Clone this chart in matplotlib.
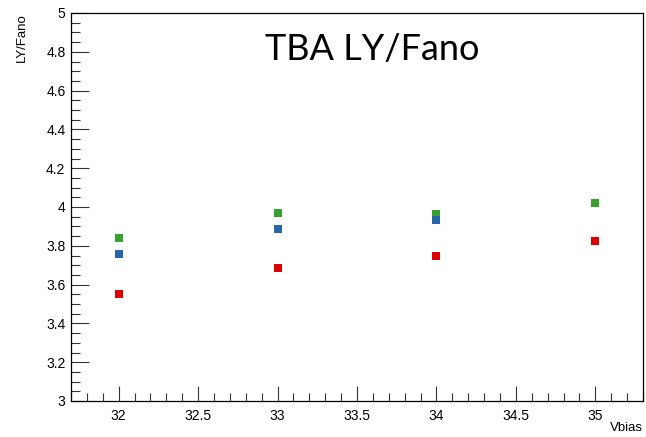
import matplotlib
matplotlib.use("Agg")
import matplotlib.pyplot as plt
from matplotlib.ticker import MultipleLocator, FuncFormatter

vbias = [32, 33, 34, 35]
green_vals = [3.840, 3.969, 3.964, 4.021]
blue_x = [32, 33, 34]
blue_vals = [3.758, 3.887, 3.933]
red_vals = [3.552, 3.686, 3.747, 3.825]

plt.rcParams['font.family'] = ['Liberation Sans', 'DejaVu Sans']

fig = plt.figure(figsize=(6.46, 4.37), dpi=100)
W, H = 646, 437
left, right, top, bottom = 71, 643, 13, 401
ax = fig.add_axes([left / W, 1 - bottom / H, (right - left) / W, (bottom - top) / H])

ms = 5.8
ax.plot(vbias, green_vals, 's', color='#36a12e', ms=ms, mew=0, zorder=3)
ax.plot(blue_x, blue_vals, 's', color='#2765aa', ms=ms, mew=0, zorder=3)
ax.plot(vbias, red_vals, 's', color='#dd0000', ms=ms, mew=0, zorder=3)

ax.set_xlim(31.7, 35.3)
ax.set_ylim(3, 5)
ax.xaxis.set_major_locator(MultipleLocator(0.5))
ax.xaxis.set_minor_locator(MultipleLocator(0.1))
ax.yaxis.set_major_locator(MultipleLocator(0.2))
ax.yaxis.set_minor_locator(MultipleLocator(0.05))

def fmt(v, pos):
    s = f"{v:.1f}"
    if s.endswith(".0"):
        s = s[:-2]
    return s
ax.xaxis.set_major_formatter(FuncFormatter(fmt))
ax.yaxis.set_major_formatter(FuncFormatter(fmt))

ax.tick_params(axis='both', which='both', direction='in', top=False, right=False, labelsize=10, width=0.8, color='#333333')
ax.tick_params(axis='y', which='major', length=13, pad=4)
ax.tick_params(axis='y', which='minor', length=6.5)
ax.tick_params(axis='x', which='major', length=11, pad=6)
ax.tick_params(axis='x', which='minor', length=5.5)
for sp in ax.spines.values():
    sp.set_linewidth(0.9)
    sp.set_color('black')

fig.text(22 / W, 1 - 13 / H, 'LY/Fano', rotation=90, ha='center', va='top', fontsize=9.5)
fig.text(643 / W, 1 - 428 / H, 'Vbias', ha='right', va='center', fontsize=9.5)
fig.text(372 / W, 1 - 49 / H, 'TBA LY/Fano', ha='center', va='center', fontsize=26,
         family=['Lato', 'DejaVu Sans'], color='black')

fig.savefig('out.png', dpi=100)
